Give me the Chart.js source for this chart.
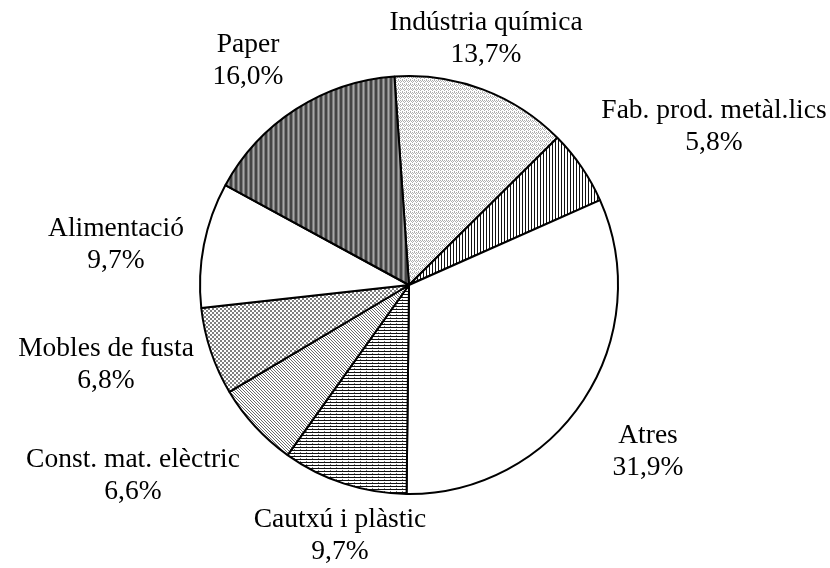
<!DOCTYPE html>
<html>
<head>
<meta charset="utf-8">
<script src="https://cdn.jsdelivr.net/npm/chart.js@4/dist/chart.umd.min.js"></script>
<style>
  body { margin: 0; background: #fff; }
  canvas { display: block; }
</style>
</head>
<body>
<canvas id="chart" width="830" height="568"></canvas>
<script>
// sectors, clockwise from the top
const sectors = ["Indústria química", "Fab. prod. metàl.lics", "Atres", "Cautxú i plàstic",
                 "Const. mat. elèctric", "Mobles de fusta", "Alimentació", "Paper"];
const shares = [13.7, 5.8, 31.9, 9.7, 6.6, 6.8, 9.7, 16.0];
const shareLabels = ["13,7%", "5,8%", "31,9%", "9,7%", "6,6%", "6,8%", "9,7%", "16,0%"];

// where each label sits (centre x, first baseline y)
const labelAnchors = [[486, 30], [714, 118], [648, 443], [340, 527],
                      [133, 467], [106, 356], [116, 236], [248, 52]];

function makePattern(rows, colors){
    /* rows: strings, one char per pixel, mapped through colors */
    const c = document.createElement("canvas");
    c.width = rows[0].length;
    c.height = rows.length;
    const g = c.getContext("2d");
    for(let y = 0; y < rows.length; y++){
        for(let x = 0; x < rows[y].length; x++){
            g.fillStyle = colors[rows[y][x]];
            g.fillRect(x, y, 1, 1);
        }
    }
    return g.createPattern(c, "repeat");
}

const pal = {w: "#ffffff", k: "#111111", d: "#444444", m: "#7a7a7a", l: "#a8a8a8",
             g: "#808080", h: "#6a6a6a", s: "#b0b0b0"};

const fills = [
    makePattern(["swsw", "wsws", "swww", "wwsw"], pal),       // química: fine stipple
    makePattern(["kww"], pal),                                  // metàl.lics: vertical lines
    "#ffffff",                                                  // atres
    makePattern(["kkkkkk", "wwwwww", "mwwwww"], pal),           // cautxú: horizontal lines
    makePattern(["hww", "whw", "wwh"], pal),                    // const. mat.: diagonal
    makePattern(["ggww", "ggww", "wwgg", "wwgg"], pal),         // mobles: checker
    "#ffffff",                                                  // alimentació
    makePattern(["ddmlm"], pal)                                 // paper: dark stripes
];

const labelPlugin = {
    id: "sectorLabels",
    afterDraw(chart){
        const ctx = chart.ctx;
        ctx.save();
        ctx.fillStyle = "#000";
        ctx.font = "27.5px 'Liberation Serif', 'Times New Roman', serif";
        ctx.textAlign = "center";
        ctx.textBaseline = "alphabetic";
        for(let i = 0; i < sectors.length; i++){
            const [x, y] = labelAnchors[i];
            ctx.fillText(sectors[i], x, y);
            ctx.fillText(shareLabels[i], x, y + 32);
        }
        ctx.restore();
    }
};

new Chart(document.getElementById("chart").getContext("2d"), {
    type: "pie",
    data: {
        labels: sectors,
        datasets: [{
            data: shares,
            backgroundColor: fills,
            borderColor: "#000",
            borderWidth: 2
        }]
    },
    options: {
        responsive: false,
        animation: false,
        events: [],
        rotation: -4,
        layout: {
            padding: {top: 75, bottom: 73, left: 199, right: 211}
        },
        plugins: {
            legend: {display: false},
            tooltip: {enabled: false}
        }
    },
    plugins: [labelPlugin]
});
</script>
</body>
</html>
